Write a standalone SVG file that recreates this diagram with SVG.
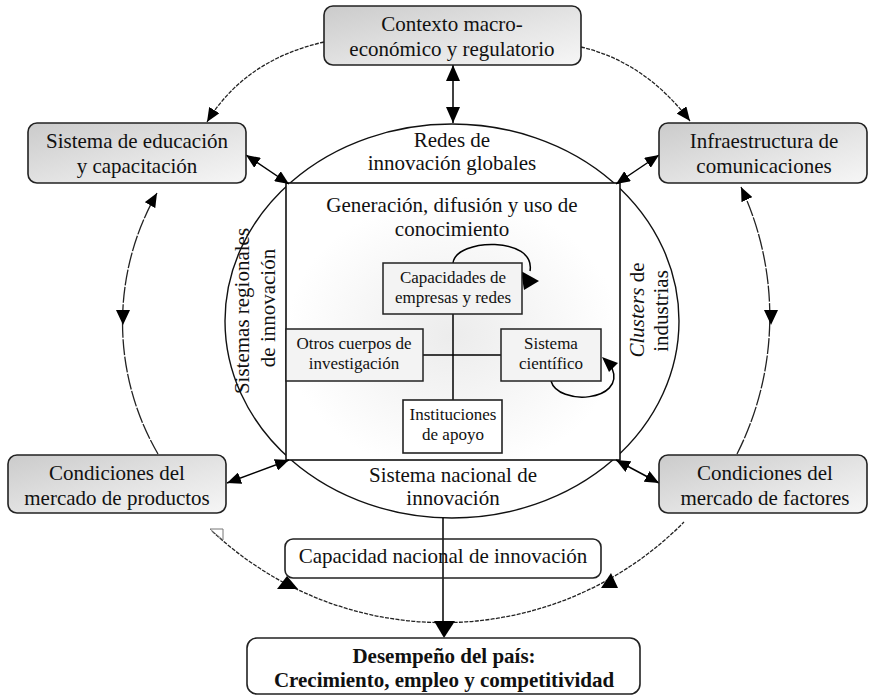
<svg xmlns="http://www.w3.org/2000/svg" width="869" height="697" viewBox="0 0 869 697">
<defs>
<linearGradient id="gbox" x1="0" y1="0" x2="1" y2="1">
<stop offset="0" stop-color="#cbcbcb"/>
<stop offset="0.6" stop-color="#e6e6e6"/>
<stop offset="1" stop-color="#f6f6f6"/>
</linearGradient>
<radialGradient id="gsq" cx="0.5" cy="0.55" r="0.5">
<stop offset="0" stop-color="#ececec"/>
<stop offset="1" stop-color="#ffffff"/>
</radialGradient>
<marker id="ah" markerUnits="userSpaceOnUse" markerWidth="16" markerHeight="14" refX="16" refY="7" orient="auto-start-reverse" viewBox="0 0 16 14">
<path d="M0,0 L16,7 L0,14 z" fill="#000"/>
</marker>
<marker id="ahs" markerUnits="userSpaceOnUse" markerWidth="14" markerHeight="12" refX="14" refY="6" orient="auto-start-reverse" viewBox="0 0 14 12">
<path d="M0,0 L14,6 L0,12 z" fill="#000"/>
</marker>
</defs>
<style>
text{font-family:"Liberation Serif","Times New Roman",serif;fill:#111;}
.t21{font-size:21px;text-anchor:middle;}
.t17{font-size:17px;text-anchor:middle;}
.b{font-weight:bold;}
.outer{fill:url(#gbox);stroke:#222;stroke-width:1.6;}
.inner{fill:#f3f3f3;stroke:#222;stroke-width:1.5;}
.plain{fill:#fff;stroke:#222;stroke-width:1.6;}
.solid{fill:none;stroke:#000;stroke-width:1.5;}
.dash{fill:none;stroke:#222;stroke-width:1.3;stroke-dasharray:4 1.3;}
.ldash{fill:none;stroke:#222;stroke-width:1.3;stroke-dasharray:16 1.5;}
.tri{fill:#000;}
</style>
<rect width="869" height="697" fill="#fff"/>

<g id="sistema-nacional">
<ellipse cx="452" cy="321" rx="227" ry="197" fill="#fff" stroke="#111" stroke-width="1.4"/>
<text class="t21" x="452" y="147">Redes de</text>
<text class="t21" x="452" y="170">innovación globales</text>
<text class="t21" x="453" y="482">Sistema nacional de</text>
<text class="t21" x="453" y="505">innovación</text>
<text class="t21" transform="translate(249,311) rotate(-90)">Sistemas regionales</text>
<text class="t21" transform="translate(275,308) rotate(-90)">de innovación</text>
<text class="t21" transform="translate(644,310) rotate(-90)"><tspan font-style="italic">Clusters</tspan> de</text>
<text class="t21" transform="translate(668,311) rotate(-90)">industrias</text>
</g>

<g id="generacion">
<rect x="286" y="183" width="334" height="277" fill="url(#gsq)" stroke="#111" stroke-width="1.6"/>
<text class="t21" x="452" y="212">Generación, difusión y uso de</text>
<text class="t21" x="452" y="236">conocimiento</text>
</g>

<g id="connectors">
<line class="solid" x1="453" y1="314" x2="453" y2="400"/>
<line class="solid" x1="423" y1="355" x2="501" y2="355"/>
<path class="solid" d="M453,263 C456,238 536,236 530,271"/>
<polygon class="tri" points="521,271 524,290 539,281"/>
<path class="solid" d="M551,381 C558,406 626,402 612,368"/>
<polygon class="tri" points="602,357 609,372 618,363"/>
<line class="solid" x1="453" y1="65" x2="453" y2="123" marker-start="url(#ah)" marker-end="url(#ah)"/>
<line class="solid" x1="246" y1="155" x2="289" y2="184" marker-start="url(#ahs)" marker-end="url(#ahs)"/>
<line class="solid" x1="659" y1="155" x2="616" y2="184" marker-start="url(#ahs)" marker-end="url(#ahs)"/>
<line class="solid" x1="227" y1="483" x2="289" y2="460" marker-start="url(#ahs)" marker-end="url(#ahs)"/>
<line class="solid" x1="659" y1="483" x2="616" y2="460" marker-start="url(#ahs)" marker-end="url(#ahs)"/>
<path class="dash" d="M324,42 Q245,60 207,122" marker-end="url(#ahs)"/>
<path class="dash" d="M581,47 Q645,62 690,121" marker-end="url(#ahs)"/>
<path class="ldash" d="M158,454 A261,261 0 0 1 157,193" marker-end="url(#ahs)"/>
<polygon class="tri" points="116,310 130,310 123,325"/>
<path class="ldash" d="M737,454 A305,305 0 0 0 741,187" marker-end="url(#ahs)"/>
<polygon class="tri" points="764,310 778,310 771,325"/>
<path class="dash" d="M212,531 A338,338 0 0 0 684,522"/>
<polygon points="210,529 223,529 223,540" fill="#fff" stroke="#777" stroke-width="1"/>
<polygon class="tri" points="287,576 277,589 298,589"/>
<polygon class="tri" points="611,573 601,588 618,588"/>
<line class="solid" x1="443" y1="518" x2="443" y2="624"/>
<polygon class="tri" points="434,621 455,621 444,638"/>
</g>

<g id="contexto">
<rect class="outer" x="324" y="6" width="257" height="59" rx="9"/>
<text class="t21" x="452" y="31">Contexto macro-</text>
<text class="t21" x="452" y="56">económico y regulatorio</text>
</g>

<g id="educacion">
<rect class="outer" x="28" y="123" width="218" height="60" rx="9"/>
<text class="t21" x="137" y="148">Sistema de educación</text>
<text class="t21" x="137" y="173">y capacitación</text>
</g>

<g id="infraestructura">
<rect class="outer" x="659" y="123" width="208" height="60" rx="9"/>
<text class="t21" x="764" y="148">Infraestructura de</text>
<text class="t21" x="764" y="173">comunicaciones</text>
</g>

<g id="productos">
<rect class="outer" x="8" y="455" width="218" height="58" rx="9"/>
<text class="t21" x="117" y="480">Condiciones del</text>
<text class="t21" x="117" y="505">mercado de productos</text>
</g>

<g id="factores">
<rect class="outer" x="659" y="455" width="208" height="58" rx="9"/>
<text class="t21" x="765" y="480">Condiciones del</text>
<text class="t21" x="765" y="505">mercado de factores</text>
</g>

<g id="capacidades">
<rect class="inner" x="383" y="263" width="139" height="51"/>
<text class="t17" x="453" y="283">Capacidades de</text>
<text class="t17" x="453" y="303">empresas y redes</text>
</g>

<g id="otros">
<rect class="inner" x="286" y="329" width="137" height="52"/>
<text class="t17" x="354" y="349">Otros cuerpos de</text>
<text class="t17" x="354" y="369">investigación</text>
</g>

<g id="cientifico">
<rect class="inner" x="501" y="329" width="100" height="52"/>
<text class="t17" x="551" y="349">Sistema</text>
<text class="t17" x="551" y="369">científico</text>
</g>

<g id="instituciones">
<rect class="plain" x="403" y="400" width="99" height="53" stroke-width="1.5"/>
<text class="t17" x="453" y="420">Instituciones</text>
<text class="t17" x="453" y="440">de apoyo</text>
</g>

<g id="capacidad-nacional">
<rect x="285" y="539" width="316" height="39" rx="8" fill="none" stroke="#222" stroke-width="1.6"/>
<text class="t21" x="443" y="563">Capacidad nacional de innovación</text>
</g>

<g id="desempeno">
<rect class="plain" x="247" y="638" width="393" height="56" rx="10"/>
<text class="t21 b" x="444" y="663">Desempeño del país:</text>
<text class="t21 b" x="444" y="687">Crecimiento, empleo y competitividad</text>
</g>
</svg>
